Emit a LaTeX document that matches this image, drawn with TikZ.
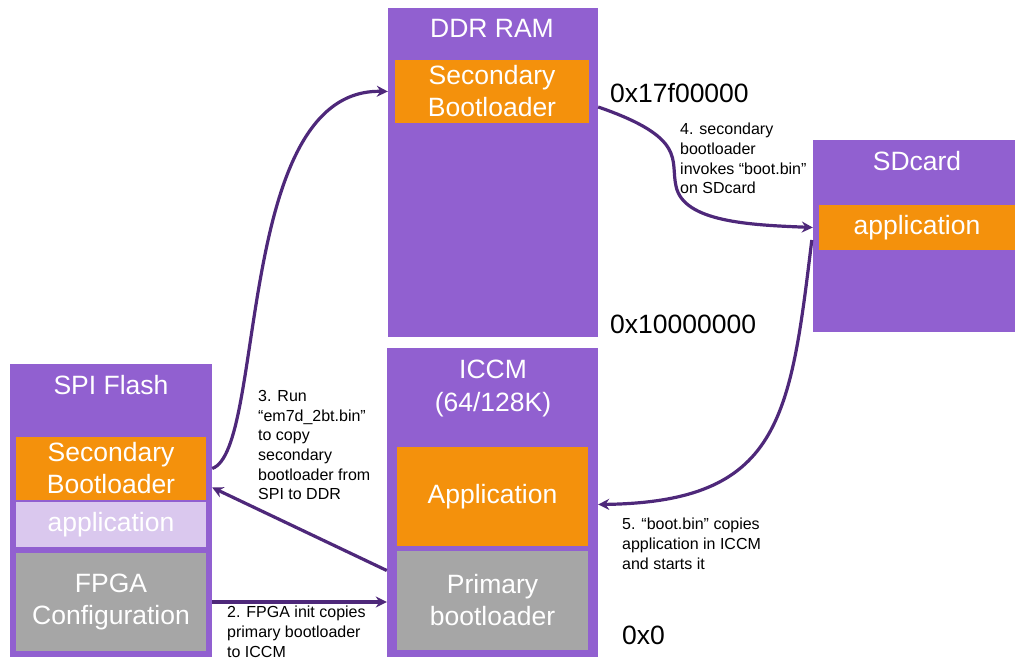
\documentclass[tikz,border=0pt]{standalone}
\usepackage{fontspec}
\setmainfont{Liberation Sans}
\usetikzlibrary{positioning,arrows.meta,calc}

\definecolor{memPurple}{RGB}{145,96,208}
\definecolor{memOrange}{RGB}{244,145,12}
\definecolor{memGray}{RGB}{166,166,166}
\definecolor{memLight}{RGB}{218,200,238}
\definecolor{flowPurple}{RGB}{78,40,122}

\tikzset{
    membox/.style={fill=memPurple, draw=none, inner sep=0pt},
    blk/.style={draw=none, inner sep=0pt, text=white, align=center,
        font=\fontsize{26.5}{32}\selectfont},
    title/.style={text=white, inner sep=0pt, align=center, anchor=base,
        font=\fontsize{26.5}{33}\selectfont},
    addr/.style={inner sep=0pt, anchor=base west, font=\fontsize{26.5}{32}\selectfont},
    note/.style={inner sep=0pt, anchor=north west, align=left,
        font=\fontsize{16}{19.7}\selectfont},
    flow/.style={draw=flowPurple, line width=3.2pt,
        -{Stealth[length=11pt,width=11pt]}},
}

\begin{document}
\begin{tikzpicture}[x=1pt, y=-1pt]
\useasboundingbox (0,0) rectangle (1015,660);

% SPI flash
\node[membox, minimum width=202pt, minimum height=293pt] (spi) at (111, 510.5) {};
\node[title] (spiT) at (111, 395) {SPI Flash};
\node[blk, fill=memOrange, minimum width=190pt, minimum height=63pt] (sspi) at (111, 468.5) {Secondary\\Bootloader};
\node[blk, fill=memLight, minimum width=190pt, minimum height=45pt] (aspi) at (111, 524.5) {application};
\node[blk, fill=memGray, minimum width=190pt, minimum height=98pt] (fpga) at (111, 602) {FPGA\\Configuration};

% DDR RAM
\node[membox, minimum width=210pt, minimum height=329pt] (ddr) at (493, 172.5) {};
\node[title] (ddrT) at (492, 38) {DDR RAM};
\node[blk, fill=memOrange, minimum width=194pt, minimum height=63pt] (sddr) at (492, 91.5) {Secondary\\Bootloader};

% ICCM
\node[membox, minimum width=211pt, minimum height=309pt] (iccm) at (492.5, 502.5) {};
\node[title] (iccmT) at (493, 411) {ICCM\\(64/128K)};
\node[blk, fill=memOrange, minimum width=191pt, minimum height=99pt] (iapp) at (492.5, 496.5) {Application};
\node[blk, fill=memGray, minimum width=191pt, minimum height=99pt] (iprim) at (492.5, 600.5) {Primary\\bootloader};

% SDcard
\node[membox, minimum width=202pt, minimum height=192pt] (sd) at (914, 236) {};
\node[title] (sdT) at (917, 171) {SDcard};
\node[blk, fill=memOrange, minimum width=196pt, minimum height=45pt] (sapp) at (917, 227.5) {application};

% addresses
\node[addr] (a17) at (610, 103) {0x17f00000};
\node[addr] (a10) at (610, 334) {0x10000000};
\node[addr] (a0) at (622, 644) {0x0};

% connector ends
\coordinate (spiIn) at ($(spi.east |- sspi.east)+(0,19)$);
\coordinate (iccmOut) at ($(iccm.west)+(0,68)$);
\coordinate (iccmIn) at ($(iccm.east |- iapp.east)+(0,8)$);
\coordinate (sdOut) at ($(sd.west)+(-1,4)$);

% arrows
\draw[flow] (spi.east |- sspi.east) .. controls (266,450) and (234,88) .. (ddr.west |- sddr.west);
\draw[flow] (iccmOut) -- (spiIn);
\draw[flow] (spi.east |- fpga.east) -- (iccm.west |- fpga.east);
\draw[flow] (ddr.east |- 0,107) .. controls (688,138) and (670,160) .. (676,186)
    .. controls (683,222) and (750,225) .. (sd.west |- sapp.west);
\draw[flow] (sdOut) .. controls (790,420) and (780,502) .. (iccmIn);

% notes
\node[note] (n3) at (258, 390) {3. Run\\``em7d\_2bt.bin''\\to copy\\secondary\\bootloader from\\SPI to DDR};
\node[note] (n2) at (227, 606) {2. FPGA init copies\\primary bootloader\\to ICCM};
\node[note] (n4) at (680, 123) {4. secondary\\bootloader\\invokes ``boot.bin''\\on SDcard};
\node[note] (n5) at (622, 518) {5. ``boot.bin'' copies\\application in ICCM\\and starts it};

\end{tikzpicture}
\end{document}
